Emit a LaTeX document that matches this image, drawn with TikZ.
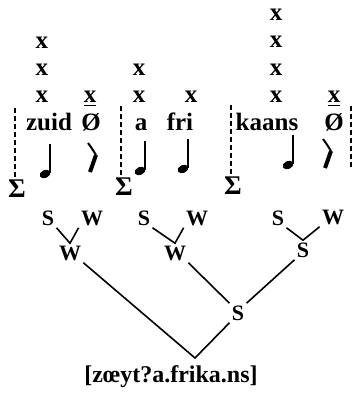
\documentclass[tikz,border=0pt]{standalone}
\usepackage{fontspec}
\setmainfont{Liberation Serif}
\usetikzlibrary{calc}
% note head at (#1,#2), stem up
\newcommand{\crotchet}[2]{%
  \fill[rotate around={25:(#1,#2)}] (#1,#2) ellipse [x radius=2.8pt, y radius=2pt];
  \draw[line width=1.1pt] (#1+4.8,#2-1) -- (#1+4.8,#2-30);}
% quarter rest, top at (#1,#2)
\newcommand{\crest}[2]{%
  \draw[line width=1pt] (#1,#2) .. controls (#1+3,#2+4) .. (#1+8,#2+12);
  \draw[line width=2pt] (#1+8,#2+12) -- (#1+2,#2+29);}

\begin{document}
\begin{tikzpicture}[x=0.5pt, y=-0.5pt,
  every node/.style={font=\fontsize{12.5}{14}\bfseries\selectfont, inner sep=1pt},
  gridx/.style={anchor=base},
  lab/.style={font=\fontsize{11}{13}\bfseries\selectfont, inner sep=1pt},
  bar/.style={line width=1pt, dash pattern=on 2.4pt off 1.6pt},
  branch/.style={line width=0.8pt}
]
  \useasboundingbox (0,0) rectangle (354,395);
  % metrical grid
  \foreach \y [count=\i] in {49,76,103} \node[gridx] (zuidx\i) at (42,\y) {x};
  \foreach \y [count=\i] in {76,103} \node[gridx] (ax\i) at (139,\y) {x};
  \node[gridx] (frix1) at (191,103) {x};
  \foreach \y [count=\i] in {21,48,76,103} \node[gridx] (kaansx\i) at (276,\y) {x};
  \node[gridx] (nulx1) at (90,103) {\underline{x}};
  \node[gridx] (nulx2) at (334,103) {\underline{x}};
  % syllables
  \node[gridx] (zuid) at (49,131) {zuid};
  \node[gridx] (nul1) at (91,131) {Ø};
  \node[gridx] (a) at (141,131) {a};
  \node[gridx] (fri) at (180,131) {fri};
  \node[gridx] (kaans) at (267,131) {kaans};
  \node[gridx] (nul2) at (334,131) {Ø};
  % notes and rests
  \crotchet{45}{174}
  \crest{88}{143}
  \crotchet{140}{171}
  \crotchet{183}{169}
  \crotchet{288}{165}
  \crest{323}{139}
  % feet
  \node[font=\fontsize{13.5}{15}\bfseries\selectfont] (sig1) at (17,189) {Σ};
  \node[font=\fontsize{13.5}{15}\bfseries\selectfont] (sig2) at (124,187) {Σ};
  \node[font=\fontsize{13.5}{15}\bfseries\selectfont] (sig3) at (233,186) {Σ};
  \coordinate (b1) at (15,108);
  \coordinate (b2) at (121,106);
  \coordinate (b3) at (231,105);
  \coordinate (b4) at (351,106);
  \draw[bar] (b1) -- (b1 |- sig1.north);
  \draw[bar] (b2) -- (b2 |- sig2.north);
  \draw[bar] (b3) -- (b3 |- sig3.north);
  \draw[bar] (b4) -- ++(0,62);
  % tree
  \node[lab] (s1) at (48,218) {S};
  \node[lab] (w1) at (92,218) {W};
  \node[lab] (m1) at (70,253) {W};
  \node[lab] (s2) at (144,218) {S};
  \node[lab] (w2) at (197,218) {W};
  \node[lab] (m2) at (175,253) {W};
  \node[lab] (s3) at (278,218) {S};
  \node[lab] (w3) at (333,217) {W};
  \node[lab] (m3) at (303,250) {S};
  \draw[branch] (s1.south east) -- (m1.north) -- (w1.south west);
  \draw[branch] (s2.south east) -- (m2.north) -- (w2.south west);
  \draw[branch] (s3.south east) -- (m3.north) -- (w3.south west);
  \node[lab] (root) at (238,313) {S};
  \draw[branch] (m2.south east) -- (root.north west);
  \draw[branch] (m3.south west) -- (root.north east);
  \coordinate (top) at (195,358);
  \draw[branch] (m1.south east) -- (top) -- (root.south west);
  \node[font=\fontsize{12}{14}\bfseries\selectfont] (form) at (171,377) {[zœyt?a.frika.ns]};
\end{tikzpicture}
\end{document}
